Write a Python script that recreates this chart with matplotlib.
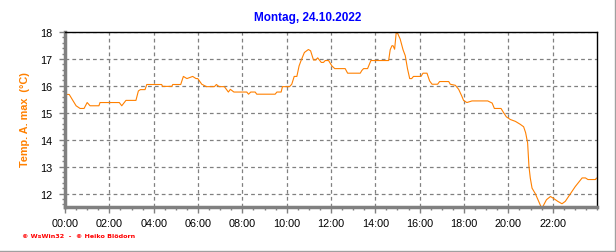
import numpy as np
import matplotlib
matplotlib.use('Agg')
from matplotlib import pyplot as plt
from matplotlib.lines import Line2D
from matplotlib.ticker import MultipleLocator

# Time of day in hours, temperature in degC
hours = [0.0, 0.19, 0.5, 0.68, 0.86, 1.0, 1.13, 1.53, 1.58, 2.45, 2.56, 2.75, 3.2, 3.31,
         3.4, 3.61, 3.69, 4.36, 4.4, 4.82, 4.86, 5.22, 5.34, 5.5, 5.76, 5.91, 5.99, 6.17,
         6.38, 6.74, 6.83, 6.95, 7.19, 7.37, 7.46, 7.62, 8.2, 8.28, 8.38, 8.58, 8.65, 9.48,
         9.56, 9.75, 9.81, 10.13, 10.23, 10.34, 10.46, 10.56, 10.65, 10.8, 10.98, 11.08,
         11.21, 11.31, 11.4, 11.56, 11.66, 11.74, 11.89, 12.04, 12.17, 12.64, 12.75, 13.32,
         13.39, 13.47, 13.65, 13.8, 14.6, 14.67, 14.75, 14.8, 14.87, 14.94, 15.0, 15.12,
         15.25, 15.35, 15.45, 15.55, 15.64, 15.72, 16.06, 16.15, 16.33, 16.45, 16.56, 16.81,
         16.9, 17.31, 17.38, 17.61, 17.76, 17.9, 17.98, 18.13, 18.36, 19.07, 19.27, 19.37,
         19.67, 19.79, 19.91, 20.09, 20.32, 20.54, 20.69, 20.78, 20.87, 20.93, 20.99, 21.07,
         21.22, 21.37, 21.48, 21.56, 21.72, 21.9, 22.02, 22.23, 22.42, 22.57, 22.8, 23.02,
         23.33, 23.48, 23.59, 23.93, 23.97]
temps = [15.68, 15.68, 15.26, 15.16, 15.16, 15.38, 15.26, 15.26, 15.38, 15.38, 15.26, 15.46,
         15.46, 15.81, 15.86, 15.86, 16.05, 16.05, 15.98, 15.98, 16.05, 16.05, 16.35, 16.27,
         16.35, 16.27, 16.27, 16.06, 15.97, 15.97, 16.05, 15.97, 15.97, 15.77, 15.87, 15.77,
         15.77, 15.69, 15.77, 15.77, 15.69, 15.69, 15.77, 15.77, 15.97, 15.97, 16.06, 16.35,
         16.35, 16.74, 16.94, 17.24, 17.35, 17.3, 16.96, 16.96, 17.04, 16.87, 16.87, 16.94,
         16.94, 16.74, 16.64, 16.64, 16.47, 16.47, 16.57, 16.64, 16.64, 16.94, 16.94, 17.34,
         17.49, 17.49, 17.36, 17.96, 17.96, 17.74, 17.34, 17.12, 16.64, 16.27, 16.27, 16.35,
         16.35, 16.47, 16.47, 16.18, 16.06, 16.06, 16.16, 16.16, 16.06, 16.02, 15.87, 15.62,
         15.46, 15.38, 15.44, 15.44, 15.36, 15.16, 15.16, 15.0, 14.85, 14.75, 14.68, 14.57,
         14.48, 14.26, 13.88, 13.01, 12.58, 12.2, 11.99, 11.71, 11.5, 11.52, 11.77, 11.89,
         11.83, 11.71, 11.62, 11.71, 11.99, 12.26, 12.58, 12.58, 12.52, 12.52, 12.57]

title = 'Montag, 24.10.2022'
ylabel = 'Temp. A. max  (°C)'
footer = '© WsWin32  -  © Heiko Blödorn'
xticks = list(range(0, 24, 2))
xlabels = [f'{h:02d}:00' for h in xticks]

plt.rcParams['font.family'] = ['Liberation Sans', 'DejaVu Sans']

fig = plt.figure(figsize=(6.16, 2.53), dpi=100)
ax = fig.add_axes([65 / 616, 45 / 253, 532 / 616, 175 / 253])

ax.plot(hours, temps, color='#ff8000', linewidth=0.8)

ax.set_xlim(0, 24)
ax.set_ylim(11.5, 18)
ax.set_xticks(xticks)
ax.set_xticklabels(xlabels)
ax.xaxis.set_minor_locator(MultipleLocator(0.5))
ax.set_yticks(range(12, 19))
ax.yaxis.set_minor_locator(MultipleLocator(0.2))

ax.grid(True, which='major', color='#808080', linestyle=(0, (3, 2.5)), linewidth=0.9)
ax.tick_params(axis='both', which='major', labelsize=7.8, color='#808080', length=4, width=1)
ax.tick_params(axis='both', which='minor', color='#808080', length=2, width=1)
ax.tick_params(axis='x', pad=4)
ax.tick_params(axis='y', pad=5)

for side in ['left', 'bottom']:
    ax.spines[side].set_color('#808080')
    ax.spines[side].set_linewidth(2.5)
for side in ['top', 'right']:
    ax.spines[side].set_color('black')
    ax.spines[side].set_linewidth(1)

fig.text(308 / 616, 1 - 18 / 253, title, color='#0000ff', fontsize=8.5, fontweight='bold',
         ha='center', va='center')
fig.text(25 / 616, 1 - 120 / 253, ylabel, color='#ff8000', fontsize=7.8, fontweight='bold',
         rotation=90, ha='center', va='center')
fig.text(22 / 616, 1 - 237 / 253, footer, color='#ff0000', fontsize=4.6, fontweight='bold',
         ha='left', va='center', family=['DejaVu Sans'])

# outer frame lines on the right and bottom edges
fig.add_artist(Line2D([614.5 / 616, 614.5 / 616], [0, 1], color='#a0a0a0', linewidth=1.0))
fig.add_artist(Line2D([0, 1], [1.5 / 253, 1.5 / 253], color='#a0a0a0', linewidth=1.0))

fig.savefig('out.png', dpi=100)
